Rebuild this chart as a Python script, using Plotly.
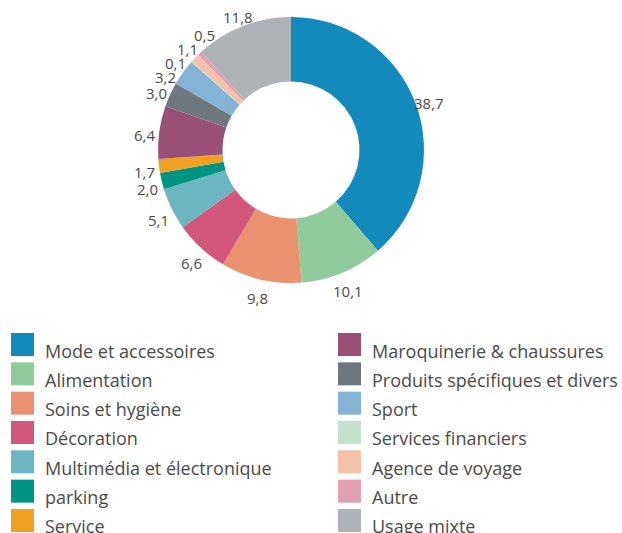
import math
import plotly.graph_objects as go

categories = ["Mode et accessoires", "Alimentation", "Soins et hygiène", "Décoration",
              "Multimédia et électronique", "parking", "Service", "Maroquinerie & chaussures",
              "Produits spécifiques et divers", "Sport", "Services financiers",
              "Agence de voyage", "Autre", "Usage mixte"]
values = [38.7, 10.1, 9.8, 6.6, 5.1, 2.0, 1.7, 6.4, 3.0, 3.2, 0.1, 1.1, 0.5, 11.8]
colors = ["#128ABC", "#8FCB9B", "#EA9170", "#D3567D", "#6BB6C0", "#009484", "#F0A121",
          "#9A4F76", "#6E777E", "#85B3D6", "#C2E2C9", "#F4C1AA", "#E3A0B2", "#AEB3B8"]

W, H = 622, 533
cx, cy, R = 291, 150, 133
RL = 147.5  # label radius
LABEL_DY = 4.5
TXT = "#4a4a4a"
FONT = "Open Sans"

def px(x):
    return x / W

def py(y):
    return 1 - y / H

fig = go.Figure()
fig.add_trace(go.Pie(
    labels=categories, values=values, sort=False, direction="clockwise", rotation=0,
    hole=0.515, marker=dict(colors=colors, line=dict(width=0)),
    textinfo="none", showlegend=False, hoverinfo="label+value",
    domain=dict(x=[px(cx - R), px(cx + R)], y=[py(cy + R), py(cy - R)]),
))

# value labels positioned from the slice mid-angles, spread to avoid overlaps
total = sum(values)
cum = 0.0
labs = []
for v in values:
    mid = (cum + v / 2) / total * 2 * math.pi
    cum += v
    side = 1 if math.sin(mid) >= 0 else -1
    labs.append({"v": v, "side": side, "y": cy - RL * math.cos(mid)})

MIN_GAP = 14
for side in (1, -1):
    group = sorted([l for l in labs if l["side"] == side], key=lambda l: l["y"])
    for _ in range(300):
        moved = False
        for a, b in zip(group, group[1:]):
            gap = b["y"] - a["y"]
            if gap < MIN_GAP - 1e-6:
                d = (MIN_GAP - gap) / 2
                a["y"] -= d
                b["y"] += d
                moved = True
        if not moved:
            break

for l in labs:
    dy = l["y"] - cy
    dx = math.sqrt(max(RL * RL - dy * dy, 0))
    x = cx + l["side"] * dx
    fig.add_annotation(xref="paper", yref="paper", x=px(x), y=py(l["y"] + LABEL_DY),
                       text=f"{l['v']:.1f}".replace(".", ","), showarrow=False,
                       xanchor="center", yanchor="middle",
                       font=dict(size=15, color=TXT, family=FONT))

# manual two-column legend
col_x = [11, 338]
row_y0, row_dy, sq = 333, 29.33, 23
for i, (name, col) in enumerate(zip(categories, colors)):
    c, r = divmod(i, 7)
    x0 = col_x[c]
    y0 = row_y0 + r * row_dy
    fig.add_shape(type="rect", xref="paper", yref="paper",
                  x0=px(x0), x1=px(x0 + sq), y0=py(y0 + sq), y1=py(y0),
                  fillcolor=col, line=dict(width=0))
    fig.add_annotation(xref="paper", yref="paper", x=px(x0 + 32), y=py(y0 + 17.5),
                       text=name, showarrow=False, xanchor="left", yanchor="middle",
                       font=dict(size=18, color=TXT, family=FONT))

fig.update_layout(width=W, height=H, margin=dict(l=0, r=0, t=0, b=0),
                  paper_bgcolor="white", plot_bgcolor="white", separators=", ")
fig.write_html("out.html", config={"displayModeBar": False},
               post_script="document.body.style.margin='0';document.body.style.overflow='hidden';")
